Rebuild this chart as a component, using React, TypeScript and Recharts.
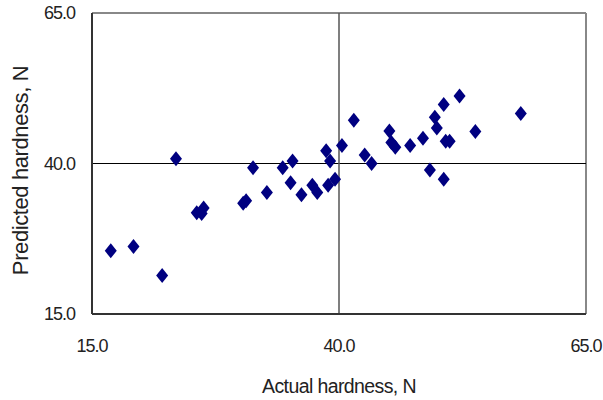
import React from "react";
import { ScatterChart, Scatter, XAxis, YAxis, ReferenceLine } from "recharts";

// actual vs predicted hardness (N)
const actual = [
    16.9, 19.2, 22.1, 23.5, 25.6, 26.1, 26.3, 30.3, 30.6, 31.3,
    32.7, 34.3, 35.3, 35.1, 36.2, 37.3, 37.8, 38.7, 39.1, 38.9,
    39.6, 40.3, 41.5, 42.6, 43.3, 45.1, 45.3, 45.7, 47.2, 48.5,
    49.2, 49.7, 49.9, 50.6, 50.6, 50.8, 51.2, 52.2, 53.8, 58.4,
];
const predicted = [
    25.5, 26.2, 21.4, 40.8, 31.8, 31.7, 32.6, 33.4, 33.8, 39.3,
    35.2, 39.3, 40.4, 36.8, 34.8, 36.4, 35.2, 42.1, 40.4, 36.4,
    37.4, 43.0, 47.2, 41.4, 40.0, 45.4, 43.5, 42.7, 43.0, 44.2,
    38.9, 47.7, 45.9, 49.8, 37.4, 43.7, 43.7, 51.2, 45.3, 48.3,
];
const axisTicks = [15, 40, 65];

const points = actual.map((x, i) => ({ x, y: predicted[i] }));

const font = "'Liberation Sans', Arial, sans-serif";

const Diamond = (props: any) => {
    const { cx, cy } = props;
    return <polygon points={`${cx},${cy - 7.5} ${cx + 6},${cy} ${cx},${cy + 7.5} ${cx - 6},${cy}`} fill="#000080" />;
};

const YLabel = (props: any) => {
    const vb = props.viewBox || { x: 0, y: 13, width: 92, height: 301 };
    const x = 20;
    const y = vb.y + vb.height / 2 + 7;
    return (
        <text x={x} y={y} transform={`rotate(-90 ${x} ${y})`} textAnchor="middle" dominantBaseline="central" fontFamily={font} fontSize={22} fill="#222" letterSpacing={-0.4}>
            Predicted hardness, N
        </text>
    );
};

export default function App() {
    return (
        <div style={{ position: "absolute", left: 0, top: 0, background: "#fff" }}>
            <ScatterChart width={603} height={400} margin={{ top: 13, right: 17, bottom: 0, left: 0 }}>
                <XAxis
                    type="number"
                    dataKey="x"
                    domain={[15, 65]}
                    ticks={axisTicks}
                    tickFormatter={(v: number) => v.toFixed(1)}
                    tickLine={false}
                    tickMargin={19}
                    axisLine={{ stroke: "#333", strokeWidth: 2 }}
                    tick={{ fill: "#222", fontSize: 18, fontFamily: font, letterSpacing: -1 }}
                    height={86}
                    label={{ value: "Actual hardness, N", position: "insideBottom", offset: 7, fill: "#222", fontSize: 19.5, fontFamily: font, letterSpacing: -0.6 }}
                />
                <YAxis
                    type="number"
                    dataKey="y"
                    domain={[15, 65]}
                    ticks={axisTicks}
                    tickFormatter={(v: number) => v.toFixed(1)}
                    tickLine={false}
                    tickMargin={11}
                    axisLine={{ stroke: "#333", strokeWidth: 2 }}
                    tick={{ fill: "#222", fontSize: 18, fontFamily: font, letterSpacing: -1 }}
                    width={92}
                    label={<YLabel />}
                />
                <ReferenceLine y={65} stroke="#888" strokeWidth={2} />
                <ReferenceLine x={65} stroke="#888" strokeWidth={2} />
                <ReferenceLine y={40} stroke="#000" strokeWidth={1} />
                <ReferenceLine x={40} stroke="#555" strokeWidth={1.5} />
                <Scatter data={points} shape={<Diamond />} isAnimationActive={false} />
            </ScatterChart>
        </div>
    );
}
